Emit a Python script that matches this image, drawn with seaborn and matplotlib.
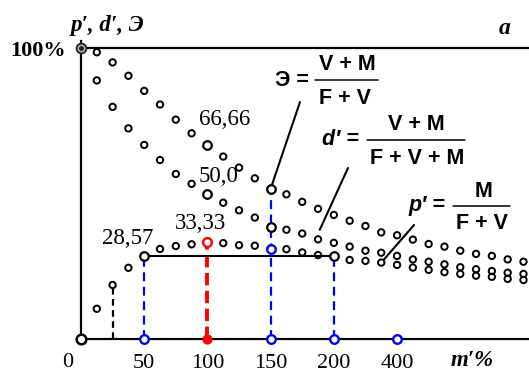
import pandas as pd
import seaborn as sns
import matplotlib.pyplot as plt
from matplotlib.lines import Line2D

# Values; position k on the m' axis, labels every 4th step
steps = list(range(29))
e_vals = [100, 98.7, 95.2, 90.6, 85.4, 80.7, 75.5, 70.8, 66.66, 62.8, 59.0, 55.3, 51.7, 49.8, 47.2,
          44.8, 42.7, 40.7, 38.9, 36.7, 35.7, 34.2, 32.7, 31.8, 30.4, 29.3, 28.6, 27.4, 26.6]
d_vals = [100, 89.0, 79.9, 72.5, 66.8, 61.6, 56.8, 53.4, 50.0, 46.9, 44.3, 41.8, 38.5, 37.6, 36.3,
          34.3, 33.1, 31.8, 30.4, 29.7, 28.6, 27.4, 26.6, 25.7, 24.7, 24.0, 23.4, 22.8, 22.4]
p_vals = [0, 10.4, 18.6, 24.5, 28.57, 31.0, 32.0, 32.6, 33.33, 33.0, 32.3, 32.1, 31.1, 30.9, 29.8,
          28.9, 28.57, 27.2, 26.9, 26.3, 25.5, 24.6, 23.8, 23.0, 22.4, 21.8, 21.4, 20.7, 20.3]
tick_steps = [4, 8, 12, 16, 20]
tick_labels = ["50", "100", "150", "200", "400"]

df = pd.DataFrame({"step": steps * 3,
                   "value": e_vals + d_vals + p_vals,
                   "curve": ["E"] * 29 + ["d"] * 29 + ["p"] * 29})

W, H = 529, 374
sns.set_style("white")
plt.rcParams["font.family"] = ["Liberation Serif", "DejaVu Serif"]
plt.rcParams["text.color"] = "black"
plt.rcParams["xtick.color"] = "black"
plt.rcParams["ytick.color"] = "black"


def fpx(x, y):
    # pixel position (from top left) -> figure fraction
    return x / W, 1 - y / H


fig = plt.figure(figsize=(W / 100, H / 100), dpi=100)
ax = fig.add_axes([81 / W, 35 / H, 448 / W, 297.8 / H])
ax.set_xlim(0, 28.35)
ax.set_ylim(0, 102.5)

# dotted curves
sns.scatterplot(data=df, x="step", y="value", ax=ax, s=21, legend=False, clip_on=False, zorder=4)
dots = ax.collections[-1]
dots.set_facecolor("none")
dots.set_edgecolor("black")
dots.set_linewidth(1.4)

# guide lines
ax.axhline(100, color="black", lw=1.6, zorder=2)
ax.vlines(2, 0, p_vals[2], color="black", lw=1.6, ls=(0, (3, 2)), zorder=3)
ax.vlines([4, 16], 0, p_vals[4], color="blue", lw=1.6, ls=(0, (4, 2.5)), zorder=3)
ax.vlines(12, 0, e_vals[12], color="blue", lw=1.6, ls=(0, (4, 2.5)), zorder=3)
ax.vlines(8, 0, p_vals[8], color="red", lw=2.8, ls=(0, (3.2, 1.4)), zorder=3)
ax.hlines(p_vals[4], 4, 16, color="black", lw=1.5, zorder=3)

# highlighted points
big_x = [4, 16, 8, 8, 12, 12]
big_y = [p_vals[4], p_vals[16], e_vals[8], d_vals[8], e_vals[12], d_vals[12]]
ax.scatter(big_x, big_y, s=38, facecolor="white", edgecolor="black", lw=1.6, zorder=5, clip_on=False)
ax.scatter([12, 4, 12, 16, 20], [p_vals[12], 0, 0, 0, 0], s=38, facecolor="white",
           edgecolor="blue", lw=1.7, zorder=5, clip_on=False)
ax.scatter([8], [p_vals[8]], s=40, facecolor="white", edgecolor="red", lw=1.7, zorder=5)
ax.scatter([8], [0], s=40, color="red", zorder=5, clip_on=False)
ax.scatter([0], [p_vals[0]], s=48, facecolor="white", edgecolor="black", lw=1.8, zorder=5, clip_on=False)
ax.scatter([0], [e_vals[0]], s=50, facecolor="#b0b0b0", edgecolor="#222222", lw=1.3, zorder=5, clip_on=False)
ax.scatter([0], [e_vals[0]], s=6, color="#222222", zorder=6, clip_on=False)

# axes
sns.despine(ax=ax)
for side in ["left", "bottom"]:
    ax.spines[side].set_linewidth(1.6)
    ax.spines[side].set_color("black")
ax.set_xticks(range(2, 29, 2))
ax.set_xticklabels([tick_labels[tick_steps.index(k)] if k in tick_steps else "" for k in range(2, 29, 2)])
ax.set_yticks(range(10, 101, 10))
ax.set_yticklabels([""] * 9 + ["100%"], fontweight="bold")
ax.tick_params(axis="x", direction="in", length=4, width=1.3, labelsize=16, pad=10.5)
ax.tick_params(axis="y", direction="in", length=4.5, width=1.3, labelsize=16, pad=11)
ax.set_xlabel("")
ax.set_ylabel("")
ax.text(-0.85, -8.2, "0", ha="center", va="center", fontsize=16, clip_on=False)

# axis titles
fig.text(*fpx(107, 25), "p′, d′, Э", fontsize=16.5, fontweight="bold", fontstyle="italic",
         ha="center", va="center")
fig.text(*fpx(472, 361), "m′%", fontsize=16.5, fontweight="bold", fontstyle="italic",
         ha="center", va="center")
fig.text(*fpx(505, 28), "a", fontsize=17, fontweight="bold", fontstyle="italic",
         ha="center", va="center")

# value labels
for s, x, y in [("66,66", 225, 120), ("50,0", 219, 176), ("28,57", 128, 238), ("33,33", 200, 224)]:
    fig.text(*fpx(x, y), s, fontsize=16.5, ha="center", va="center")

# formulas
sans = dict(family=["Liberation Sans", "DejaVu Sans"], fontweight="bold", fontsize=15.5,
            ha="center", va="center")


def frac(prefix, px, num, nx, den, dx, bar, yb, italic=False):
    fig.text(*fpx(px, yb), prefix, fontstyle="italic" if italic else "normal", **sans)
    fig.text(*fpx(nx, yb - 15), num, **sans)
    fig.text(*fpx(dx, yb + 18), den, **sans)
    fig.add_artist(Line2D([bar[0] / W, bar[1] / W], [1 - yb / H] * 2, color="black", lw=1.1))


frac("Э =", 292, "V + M", 347, "F + V", 345, (315, 378), 80)
frac("d′ =", 340, "V + M", 416, "F + V + M", 417, (367, 465), 140, italic=True)
frac("p′ =", 427, "M", 484, "F + V", 482, (453, 510), 206, italic=True)

# leader lines
lead = dict(arrowstyle="-", color="black", lw=1.5, shrinkA=0, shrinkB=3)
ax.annotate("", xy=(12, e_vals[12]), xytext=fpx(300, 102), textcoords="figure fraction", arrowprops=lead)
ax.annotate("", xy=(15, d_vals[15] + 2), xytext=fpx(348, 168), textcoords="figure fraction", arrowprops=lead)
ax.annotate("", xy=(19, p_vals[19]), xytext=fpx(414, 225), textcoords="figure fraction", arrowprops=lead)

fig.savefig("out.png", dpi=100)
